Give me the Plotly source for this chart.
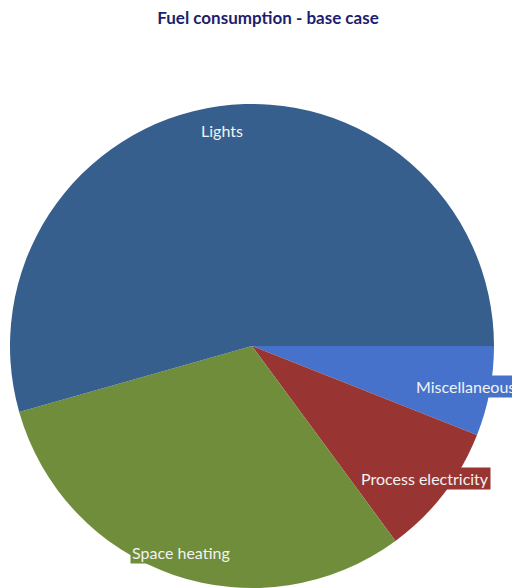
import math
import plotly.graph_objects as go

categories = ["Lights", "Space heating", "Process electricity", "Miscellaneous"]
values = [54.4, 30.7, 8.9, 6.0]
colors = ["#375f8e", "#6f8d3a", "#983532", "#4672cc"]
title_text = "Fuel consumption - base case"

# Slices run counterclockwise from 3 o'clock starting with Lights; drawn clockwise in reverse order
fig = go.Figure(go.Pie(
    labels=categories[::-1], values=values[::-1], sort=False, direction="clockwise",
    rotation=90, marker=dict(colors=colors[::-1], line=dict(width=0)),
    textinfo="none", hoverinfo="label+percent", showlegend=False,
    domain=dict(x=[0, 1], y=[0, 1]),
))

# Label boxes at 0.9 radius along each slice's mid-angle (derived from data)
total = sum(values)
cum = 0.0
annotations = []
for lab, v, c in zip(categories, values, colors):
    mid = (cum + v / 2) / total * 2 * math.pi  # counterclockwise from 3 o'clock
    cum += v
    r = 0.5 * 0.9
    annotations.append(dict(
        x=0.5 + r * math.cos(mid), y=0.5 + r * math.sin(mid),
        xref="paper", yref="paper", text=lab, showarrow=False,
        font=dict(family="Lato", size=16, color="#f2f2f2"),
        bgcolor=c, borderpad=1, xanchor="center", yanchor="middle",
    ))

fig.update_layout(
    width=520, height=588,
    margin=dict(l=2, r=34, t=96, b=8),
    paper_bgcolor="white", plot_bgcolor="white",
    title=dict(text="<b>" + title_text + "</b>", x=0.5, xanchor="center", xref="container",
               y=1 - 10 / 588, yanchor="middle", yref="container",
               font=dict(family="Lato", size=17, color="#1e1e6e")),
    annotations=annotations,
)
fig.write_html("out.html")
